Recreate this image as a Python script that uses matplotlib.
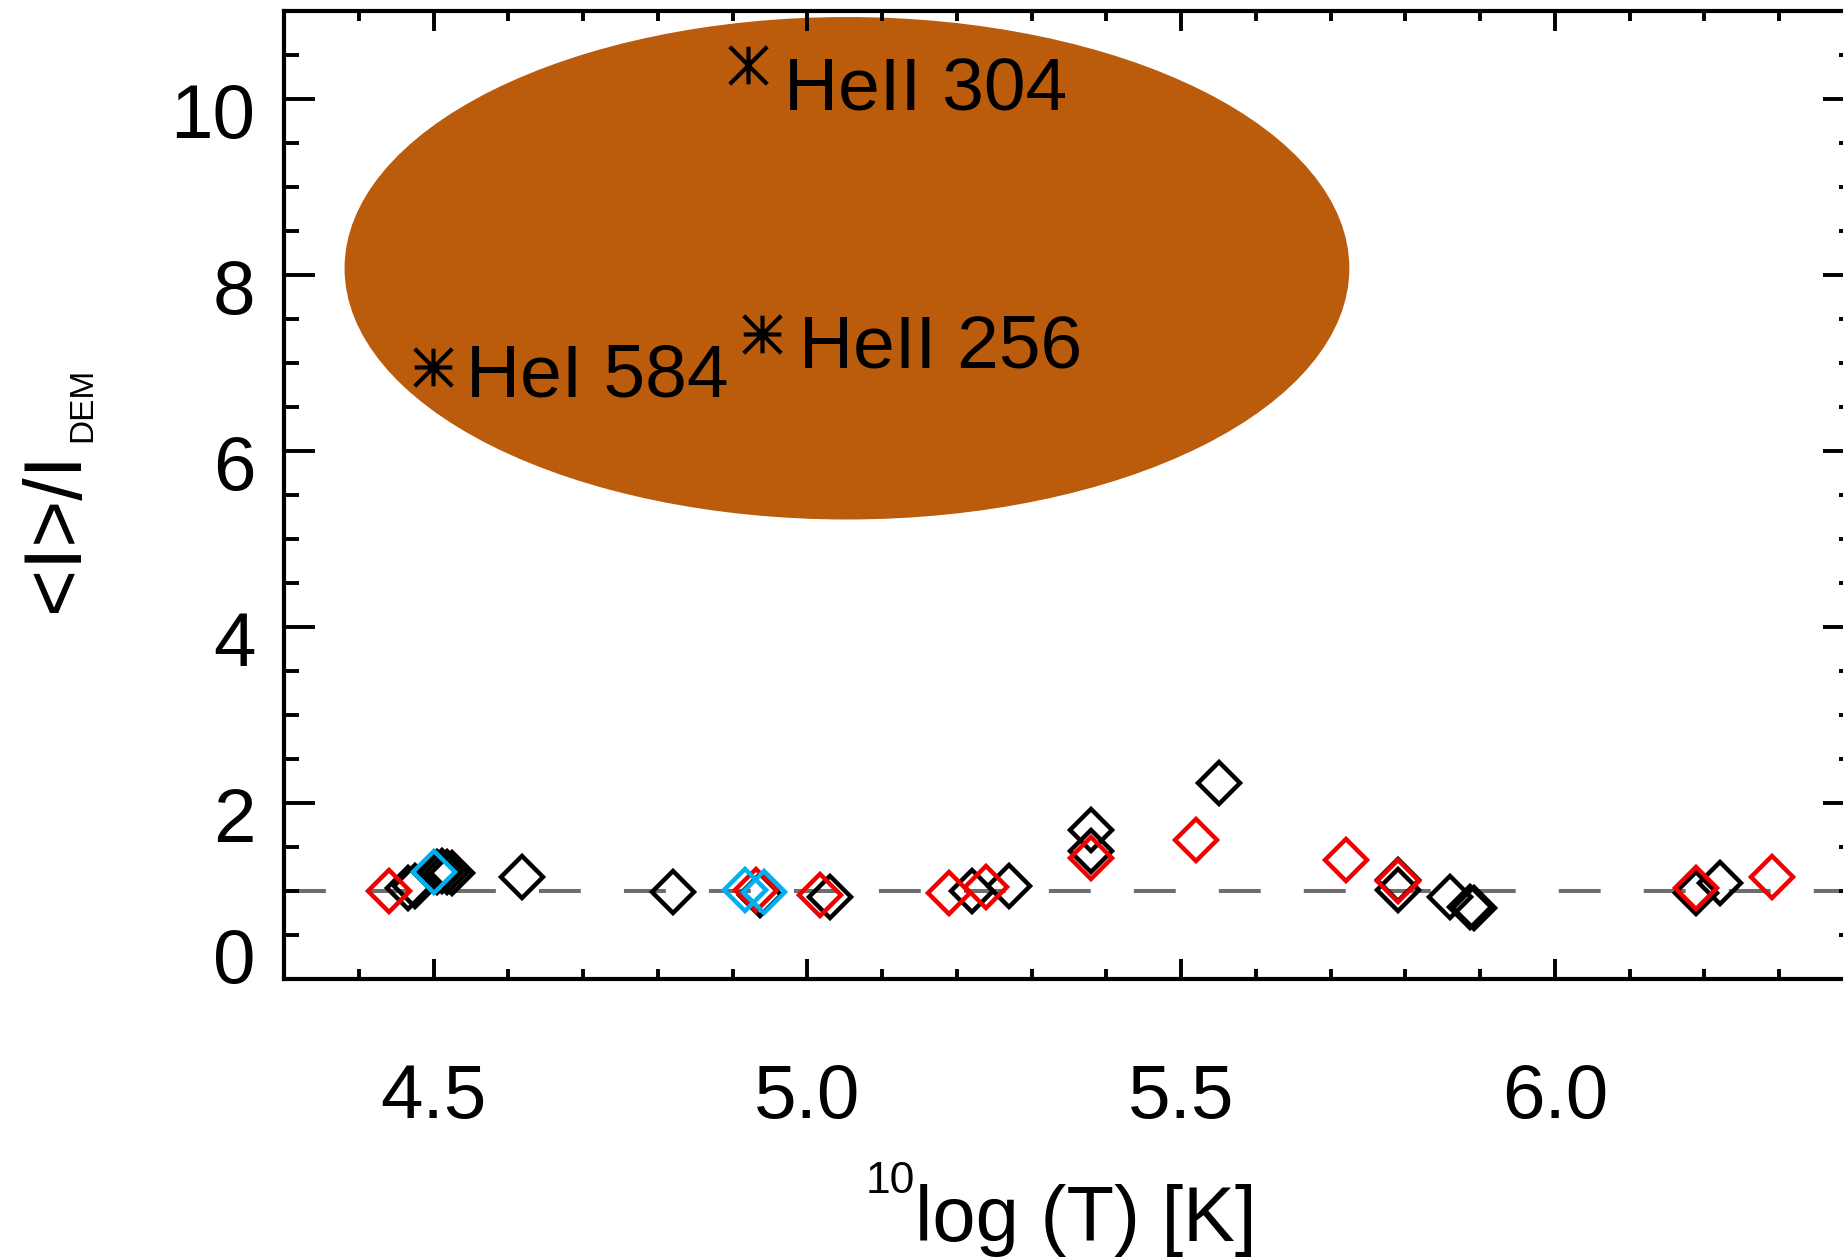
import matplotlib
matplotlib.use("Agg")
import matplotlib.pyplot as plt
from matplotlib.patches import Ellipse
from matplotlib.path import Path
from matplotlib.ticker import MultipleLocator
from matplotlib.transforms import ScaledTranslation

plt.rcParams['font.family'] = ['Liberation Sans', 'DejaVu Sans']

# diamonds: 10log(T) against <I>/I_DEM, one list pair per colour
black_x = [4.466, 4.475, 4.505, 4.512, 4.518, 4.525, 4.619, 4.820, 4.937, 5.030,
           5.220, 5.270, 5.380, 5.380, 5.550, 5.790, 5.790, 5.859, 5.887, 5.892,
           6.189, 6.221]
black_y = [1.04, 1.06, 1.22, 1.23, 1.22, 1.21, 1.166, 0.995, 0.958, 0.94,
           1.00, 1.058, 1.697, 1.458, 2.23, 1.125, 1.015, 0.939, 0.82, 0.81,
           0.977, 1.098]

red_x = [4.440, 4.931, 5.017, 5.189, 5.239, 5.380, 5.520, 5.720, 5.790, 6.189, 6.290]
red_y = [1.00, 1.015, 0.958, 0.984, 1.05, 1.375, 1.58, 1.356, 1.12, 1.04, 1.159]

cyan_x = [4.500, 4.917, 4.9415]
cyan_y = [1.216, 1.015, 0.995]

# helium lines (asterisks) inside the shaded ellipse
he_names = ['HeII 304', 'HeI 584', 'HeII 256']
he_x = [4.920, 4.4996, 4.939]
he_y = [10.39, 6.958, 7.33]

blob_center = (5.053, 8.08)
blob_width = 1.344
blob_height = 5.71

ref_level = 1.0

x_ticks = [4.5, 5.0, 5.5, 6.0]
x_ticklabels = ['4.5', '5.0', '5.5', '6.0']
y_ticks = [0, 2, 4, 6, 8, 10]
y_ticklabels = ['0', '2', '4', '6', '8', '10']

W, H = 1843, 1258
fig = plt.figure(figsize=(W / 100, H / 100), dpi=100)
ax = fig.add_axes([284 / W, 1 - 979.3 / H, 1570 / W, 968 / H])
ax.set_xlim(4.3, 6.4)
ax.set_ylim(0, 11)

# shaded region
ax.add_patch(Ellipse(blob_center, blob_width, blob_height,
                     facecolor='#BB5B0C', edgecolor='none', zorder=0.5))

# reference line
ax.axhline(ref_level, color='#6E6E6E', lw=2.9, dashes=(10.4, 10.7), zorder=1)

mk = dict(ls='none', marker='D', ms=21, mew=3.2, mfc='none')
ax.plot(black_x, black_y, mec='black', zorder=2, **mk)
ax.plot(red_x, red_y, mec='#F00000', zorder=3, **mk)
ax.plot(cyan_x, cyan_y, mec='#00B0F0', zorder=4, **mk)

# asterisks (IDL psym=2 look)
star6 = Path([(0, -1), (0, 1), (-1, -1), (1, 1), (-1, 1), (1, -1)],
             [Path.MOVETO, Path.LINETO] * 3)
star8 = Path([(0, -1), (0, 1), (-1, -1), (1, 1), (-1, 1), (1, -1), (-1, 0), (1, 0)],
             [Path.MOVETO, Path.LINETO] * 4)
stars = [star6, star8, star8]
label_off = [(36, -46), (33, -30), (37, -33)]
for name, x, y, st, off in zip(he_names, he_x, he_y, stars, label_off):
    ax.plot([x], [y], ls='none', marker=st, ms=27, mew=3.0, mfc='none',
            mec='black', zorder=5)
    ax.annotate(name, (x, y), xytext=off, textcoords='offset pixels',
                fontsize=54, ha='left', va='baseline', zorder=6)

# axes, ticks
for sp in ax.spines.values():
    sp.set_linewidth(3)
ax.set_xticks(x_ticks, x_ticklabels)
ax.set_yticks(y_ticks, y_ticklabels)
ax.xaxis.set_minor_locator(MultipleLocator(0.1))
ax.yaxis.set_minor_locator(MultipleLocator(0.5))
ax.tick_params(which='both', direction='in', top=True, right=True, width=2.8,
               labelsize=55)
ax.tick_params(axis='x', which='major', length=14.4, pad=60)
ax.tick_params(axis='x', which='minor', length=7.2)
ax.tick_params(axis='y', which='major', length=22.3, pad=20.5)
ax.tick_params(axis='y', which='minor', length=10.8)

# IDL-like vertical nudges of the y tick labels
for val, tick in zip(y_ticks, ax.yaxis.get_major_ticks()):
    dy = 0.24 if val == 0 else -0.11
    lab = tick.label1
    lab.set_transform(lab.get_transform() + ScaledTranslation(0, dy, fig.dpi_scale_trans))

# axis titles built from pieces (sub/superscripts at IDL sizes)
px = fig.dpi_scale_trans
fig.text(9.15, (H - 1240.7) / 100, 'log (T) [K]', transform=px, fontsize=56,
         ha='left', va='baseline')
fig.text(9.15, (H - 1193.3) / 100, '10', transform=px, fontsize=32,
         ha='right', va='baseline')
fig.text(0.783, (H - 612) / 100, '<I>/I', transform=px, fontsize=58,
         rotation=90, rotation_mode='anchor', ha='left', va='baseline')
fig.text(0.917, (H - 442) / 100, 'DEM', transform=px, fontsize=24,
         rotation=90, rotation_mode='anchor', ha='left', va='baseline')

fig.savefig('out.png', dpi=100)
